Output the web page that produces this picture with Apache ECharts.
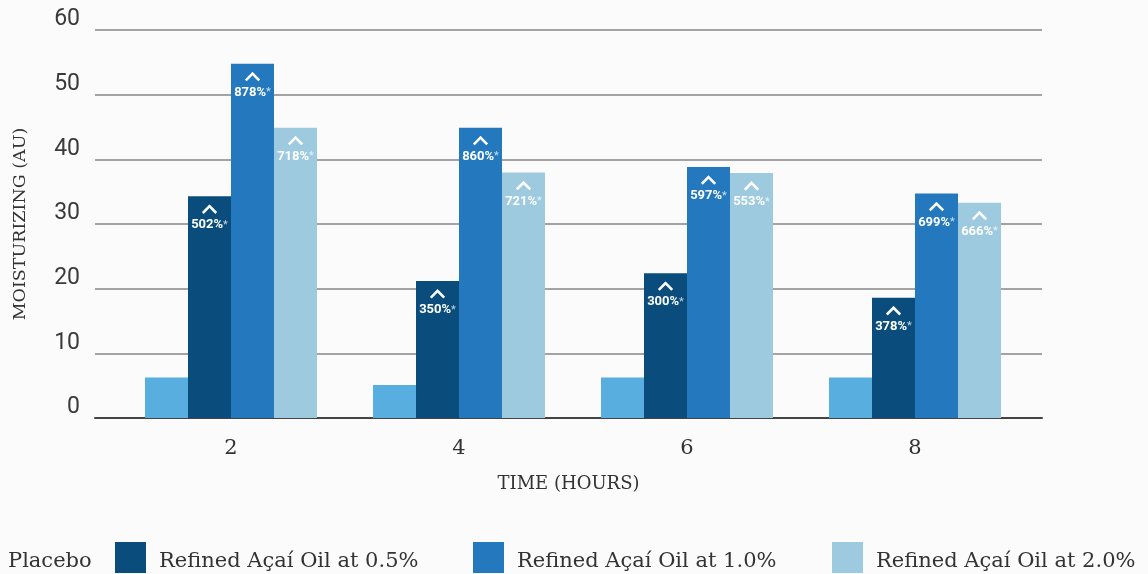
<!DOCTYPE html>
<html>
<head>
<meta charset="utf-8">
<script src="https://cdn.jsdelivr.net/npm/echarts@6/dist/echarts.min.js"></script>
<style>
html,body{margin:0;padding:0;background:#fcfbfb;}
#chart{width:1148px;height:574px;}
</style>
</head>
<body>
<div id="chart"></div>
<script>
// ---- data ----
const categories = ['2', '4', '6', '8'];
const seriesNames = ['Placebo', 'Refined Açaí Oil at 0.5%', 'Refined Açaí Oil at 1.0%', 'Refined Açaí Oil at 2.0%'];
const placebo = [6.25, 5.1, 6.25, 6.25];
const oil05 = [34.3, 21.2, 22.4, 18.6];
const oil10 = [54.8, 44.9, 38.8, 34.7];
const oil20 = [44.9, 37.95, 37.9, 33.3];
const labels05 = ['502%', '350%', '300%', '378%'];
const labels10 = ['878%', '860%', '597%', '699%'];
const labels20 = ['718%', '721%', '553%', '666%'];
const yTicks = [0, 10, 20, 30, 40, 50, 60];

const colors = ['#58aedf', '#0a4d7d', '#2479be', '#9ecadf'];

const chevron = 'data:image/svg+xml;utf8,' + encodeURIComponent(
  "<svg xmlns='http://www.w3.org/2000/svg' width='16' height='10' viewBox='0 0 16 10'><polyline points='1.3,8.8 8,2 14.7,8.8' fill='none' stroke='white' stroke-width='2.6'/></svg>");

function makeLabel(arr) {
  return {
    show: true,
    position: 'insideTop',
    distance: 8,
    formatter: p => '{c|}\n{v|' + arr[p.dataIndex] + '}{s|*}',
    rich: {
      c: { width: 16, height: 10, backgroundColor: { image: chevron }, align: 'center' },
      v: { fontFamily: 'Roboto', fontWeight: 'bold', fontSize: 13, color: '#ffffff', lineHeight: 22 },
      s: { fontFamily: 'Roboto', fontSize: 11, color: 'rgba(255,255,255,0.75)', lineHeight: 22 }
    }
  };
}

const serif = "'DejaVu Serif', serif";

function legendFor(name, left, w) {
  return {
    data: [name],
    left: left,
    top: 542,
    orient: 'horizontal',
    icon: 'rect',
    itemWidth: w,
    itemHeight: 31,
    selectedMode: false,
    padding: 0,
    formatter: '{t|{name}}',
    textStyle: {
      padding: [0, 0, 0, w ? 8 : 0],
      rich: { t: { fontFamily: serif, fontSize: 21, color: '#333', padding: [9, 0, 0, 0] } }
    }
  };
}

const chart = echarts.init(document.getElementById('chart'), null, { renderer: 'canvas' });
chart.setOption({
  backgroundColor: '#fcfbfb',
  animation: false,
  grid: [
    { left: 95, right: 106, top: 30, bottom: 156 },
    { left: 117, right: 119, top: 30, bottom: 156 }
  ],
  legend: [
    legendFor(seriesNames[0], 3, 0),
    legendFor(seriesNames[1], 115, 31),
    legendFor(seriesNames[2], 473, 31),
    legendFor(seriesNames[3], 832, 31)
  ],
  xAxis: [
    {
      gridIndex: 0, type: 'value', min: 0, max: 1,
      axisLine: { show: true, lineStyle: { color: '#444', width: 2 } },
      axisTick: { show: false }, axisLabel: { show: false }, splitLine: { show: false },
      name: 'TIME (HOURS)', nameLocation: 'middle', nameGap: 57,
      nameTextStyle: { fontFamily: serif, fontSize: 18, color: '#333' }
    },
    {
      gridIndex: 1, type: 'category', data: categories,
      axisLine: { show: false }, axisTick: { show: false },
      axisLabel: { fontFamily: serif, fontSize: 21, color: '#333', margin: 20 }
    }
  ],
  yAxis: [
    {
      gridIndex: 0, type: 'value', min: yTicks[0], max: yTicks[yTicks.length - 1], interval: 10,
      axisLine: { show: false }, axisTick: { show: false },
      axisLabel: { fontFamily: 'Roboto', fontSize: 23, color: '#3a3a3a', margin: 15, verticalAlign: 'bottom', lineHeight: 21 },
      splitLine: { lineStyle: { color: '#a3a3a3', width: 2 } },
      name: 'MOISTURIZING (AU)', nameLocation: 'middle', nameGap: 66, nameRotate: 90,
      nameTextStyle: { fontFamily: serif, fontSize: 17.5, color: '#333' }
    },
    {
      gridIndex: 1, type: 'value', min: yTicks[0], max: yTicks[yTicks.length - 1], interval: 10,
      show: false, splitLine: { show: false }
    }
  ],
  series: [
    { name: seriesNames[0], type: 'bar', xAxisIndex: 1, yAxisIndex: 1, data: placebo, barWidth: 43, barGap: '0%', itemStyle: { color: colors[0] } },
    { name: seriesNames[1], type: 'bar', xAxisIndex: 1, yAxisIndex: 1, data: oil05, barWidth: 43, barGap: '0%', itemStyle: { color: colors[1] }, label: makeLabel(labels05) },
    { name: seriesNames[2], type: 'bar', xAxisIndex: 1, yAxisIndex: 1, data: oil10, barWidth: 43, barGap: '0%', itemStyle: { color: colors[2] }, label: makeLabel(labels10) },
    { name: seriesNames[3], type: 'bar', xAxisIndex: 1, yAxisIndex: 1, data: oil20, barWidth: 43, barGap: '0%', itemStyle: { color: colors[3] }, label: makeLabel(labels20) }
  ]
});
</script>
</body>
</html>
